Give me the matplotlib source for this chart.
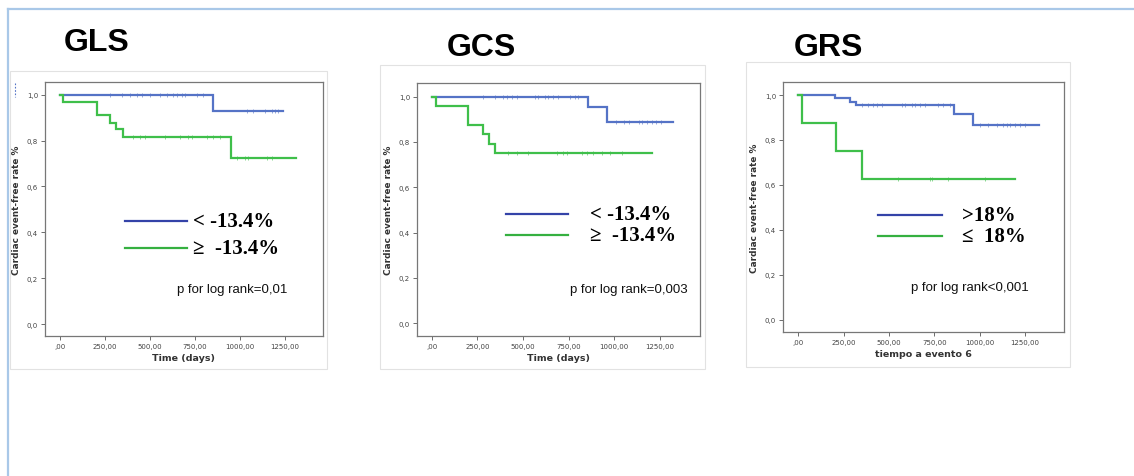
import matplotlib
matplotlib.use("Agg")
import matplotlib.pyplot as plt
from matplotlib.patches import Rectangle
from matplotlib.lines import Line2D
import numpy as np

# ---- data ----
titles = ["GLS", "GCS", "GRS"]
xlabels = ["Time (days)", "Time (days)", "tiempo a evento 6"]
ptexts = ["p for log rank=0,01", "p for log rank=0,003", "p for log rank<0,001"]
leg_hi = ["< -13.4%", "< -13.4%", ">18%"]
leg_lo = ["\u2265  -13.4%", "\u2265  -13.4%", "\u2264  18%"]

# step curves: event times / survival after each step, last time = end of follow-up
gls_blue_t = [0, 852, 1241]
gls_blue_s = [1.0, 0.929, 0.929]
gls_blue_cens = [278, 343, 389, 426, 454, 500, 556, 593, 630, 648, 676, 694, 759, 796, 1037, 1074, 1139, 1176, 1194, 1213]
gls_green_t = [0, 18, 204, 278, 311, 348, 950, 1311]
gls_green_s = [1.0, 0.969, 0.909, 0.878, 0.848, 0.815, 0.724, 0.724]
gls_green_cens = [407, 444, 472, 583, 667, 713, 731, 815, 852, 889, 982, 1028, 1046, 1148, 1176]

gcs_blue_t = [0, 858, 958, 1323]
gcs_blue_s = [1.0, 0.953, 0.889, 0.889]
gcs_blue_cens = [283, 347, 392, 411, 438, 465, 566, 584, 620, 639, 666, 693, 757, 785, 803, 1007, 1053, 1080, 1135, 1153, 1181, 1208, 1226, 1254]
gcs_green_t = [0, 22, 201, 283, 316, 347, 1204]
gcs_green_s = [1.0, 0.958, 0.875, 0.833, 0.792, 0.75, 0.75]
gcs_green_cens = [420, 465, 529, 684, 721, 739, 821, 848, 885, 931, 976, 1040]

grs_blue_t = [0, 202, 285, 316, 860, 961, 1329]
grs_blue_s = [1.0, 0.988, 0.970, 0.954, 0.917, 0.865, 0.865]
grs_blue_cens = [349, 386, 414, 432, 460, 570, 588, 625, 643, 671, 699, 772, 800, 836, 1002, 1048, 1094, 1131, 1149, 1167, 1195, 1222, 1250]
grs_green_t = [0, 22, 208, 353, 1195]
grs_green_s = [1.0, 0.875, 0.75, 0.625, 0.625]
grs_green_cens = [551, 726, 735, 827, 1029]

curves = [
    (gls_blue_t, gls_blue_s, gls_blue_cens, gls_green_t, gls_green_s, gls_green_cens),
    (gcs_blue_t, gcs_blue_s, gcs_blue_cens, gcs_green_t, gcs_green_s, gcs_green_cens),
    (grs_blue_t, grs_blue_s, grs_blue_cens, grs_green_t, grs_green_s, grs_green_cens),
]
xticks = [0, 250, 500, 750, 1000, 1250]
xticklabels = [",00", "250,00", "500,00", "750,00", "1000,00", "1250,00"]
yticks = [0, 0.2, 0.4, 0.6, 0.8, 1.0]
yticklabels = ["0,0", "0,2", "0,4", "0,6", "0,8", "1,0"]

W, H = 1134, 477
fig = plt.figure(figsize=(W / 100, H / 100), dpi=100)
fig.patch.set_facecolor("white")

def fx(x):
    return x / W

def fy(y):
    return 1 - y / H

# slide frame (light blue)
fig.add_artist(Line2D([fx(8), fx(W)], [fy(10), fy(10)], color="#a9c8e8", lw=1.6))
fig.add_artist(Line2D([fx(8), fx(8)], [fy(10), 0], color="#a9c8e8", lw=1.6))

# panel boxes (pixel boxes) and axes rects
boxes = [(10, 72, 327, 370), (380, 66, 705, 370), (746, 63, 1070, 368)]
axrects = [(45, 83, 323, 337), (417, 84, 700, 337), (783, 83, 1064, 333)]
title_pos = [(97, 43), (481, 48), (828, 48)]
xlims = [(-83, 1461), (-80, 1469), (-84, 1465)]
ylims = [(-0.052, 1.055), (-0.056, 1.06), (-0.055, 1.058)]
leg_y = [(0.453, 0.346), (0.482, 0.40), (0.468, 0.384)]
leg_x = [(0.288, 0.511, 0.532), (0.314, 0.533, 0.611), (0.338, 0.565, 0.636)]
p_pos = [(0.475, 0.185), (0.541, 0.186), (0.454, 0.178)]

blue = "#5573c6"
green = "#3fbf4a"
leg_blue = "#3443a8"
leg_green = "#35b040"

for i in range(3):
    x0, y0, x1, y1 = boxes[i]
    fig.add_artist(Rectangle((fx(x0), fy(y1)), fx(x1 - x0), (y1 - y0) / H,
                             fill=False, ec="#e2e2e2", lw=0.8))
    ax0, ay0, ax1, ay1 = axrects[i]
    ax = fig.add_axes([fx(ax0), fy(ay1), fx(ax1 - ax0), (ay1 - ay0) / H])

    bt, bs, bc, gt, gs, gc = curves[i]
    ax.step(bt, bs, where="post", color=blue, lw=1.6, solid_joinstyle="miter")
    ax.step(gt, gs, where="post", color=green, lw=1.6, solid_joinstyle="miter")
    # censor marks on the step curves
    bcy = [bs[np.searchsorted(bt, c, side="right") - 1] for c in bc]
    gcy = [gs[np.searchsorted(gt, c, side="right") - 1] for c in gc]
    ax.plot(bc, bcy, ls="none", marker="|", ms=3.5, mew=0.6, color=blue, alpha=0.7)
    ax.plot(gc, gcy, ls="none", marker="|", ms=3.5, mew=0.6, color=green, alpha=0.7)

    ax.set_xlim(*xlims[i])
    ax.set_ylim(*ylims[i])
    ax.set_xticks(xticks)
    ax.set_xticklabels(xticklabels, fontsize=5, color="#444")
    ax.set_yticks(yticks)
    ax.set_yticklabels(yticklabels, fontsize=5, color="#444")
    ax.tick_params(length=3, width=0.6, color="#555", pad=2)
    for s in ax.spines.values():
        s.set_color("#777")
        s.set_linewidth(0.9)
    ax.set_xlabel(xlabels[i], fontsize=6.8, fontweight="bold", color="#333", labelpad=3)
    ax.set_ylabel("Cardiac event-free rate %", fontsize=6.4, fontweight="bold", color="#333", labelpad=4)

    # hand-drawn legend
    lx0, lx1, tx = leg_x[i]
    yb, yg = leg_y[i]
    ax.plot([lx0, lx1], [yb, yb], transform=ax.transAxes, color=leg_blue, lw=1.6)
    ax.plot([lx0, lx1], [yg, yg], transform=ax.transAxes, color=leg_green, lw=1.6)
    ax.text(tx, yb, leg_hi[i], transform=ax.transAxes, va="center", ha="left",
            fontsize=15, fontweight="bold", family="Liberation Serif")
    ax.text(tx, yg, leg_lo[i], transform=ax.transAxes, va="center", ha="left",
            fontsize=15, fontweight="bold", family="Liberation Serif")
    ax.text(p_pos[i][0], p_pos[i][1], ptexts[i], transform=ax.transAxes,
            va="center", ha="left", fontsize=9.5, family="Liberation Sans", color="#111")

    tpx, tpy = title_pos[i]
    fig.text(fx(tpx), fy(tpy), titles[i], ha="center", va="center",
             fontsize=23, fontweight="bold", family="Liberation Sans")

# small dotted mark at top left of first panel
fig.add_artist(Line2D([fx(15), fx(15)], [fy(84), fy(98)], color="#5573c6", lw=0.8, ls=(0, (1.5, 1.5))))

fig.savefig("out.png", dpi=100)
